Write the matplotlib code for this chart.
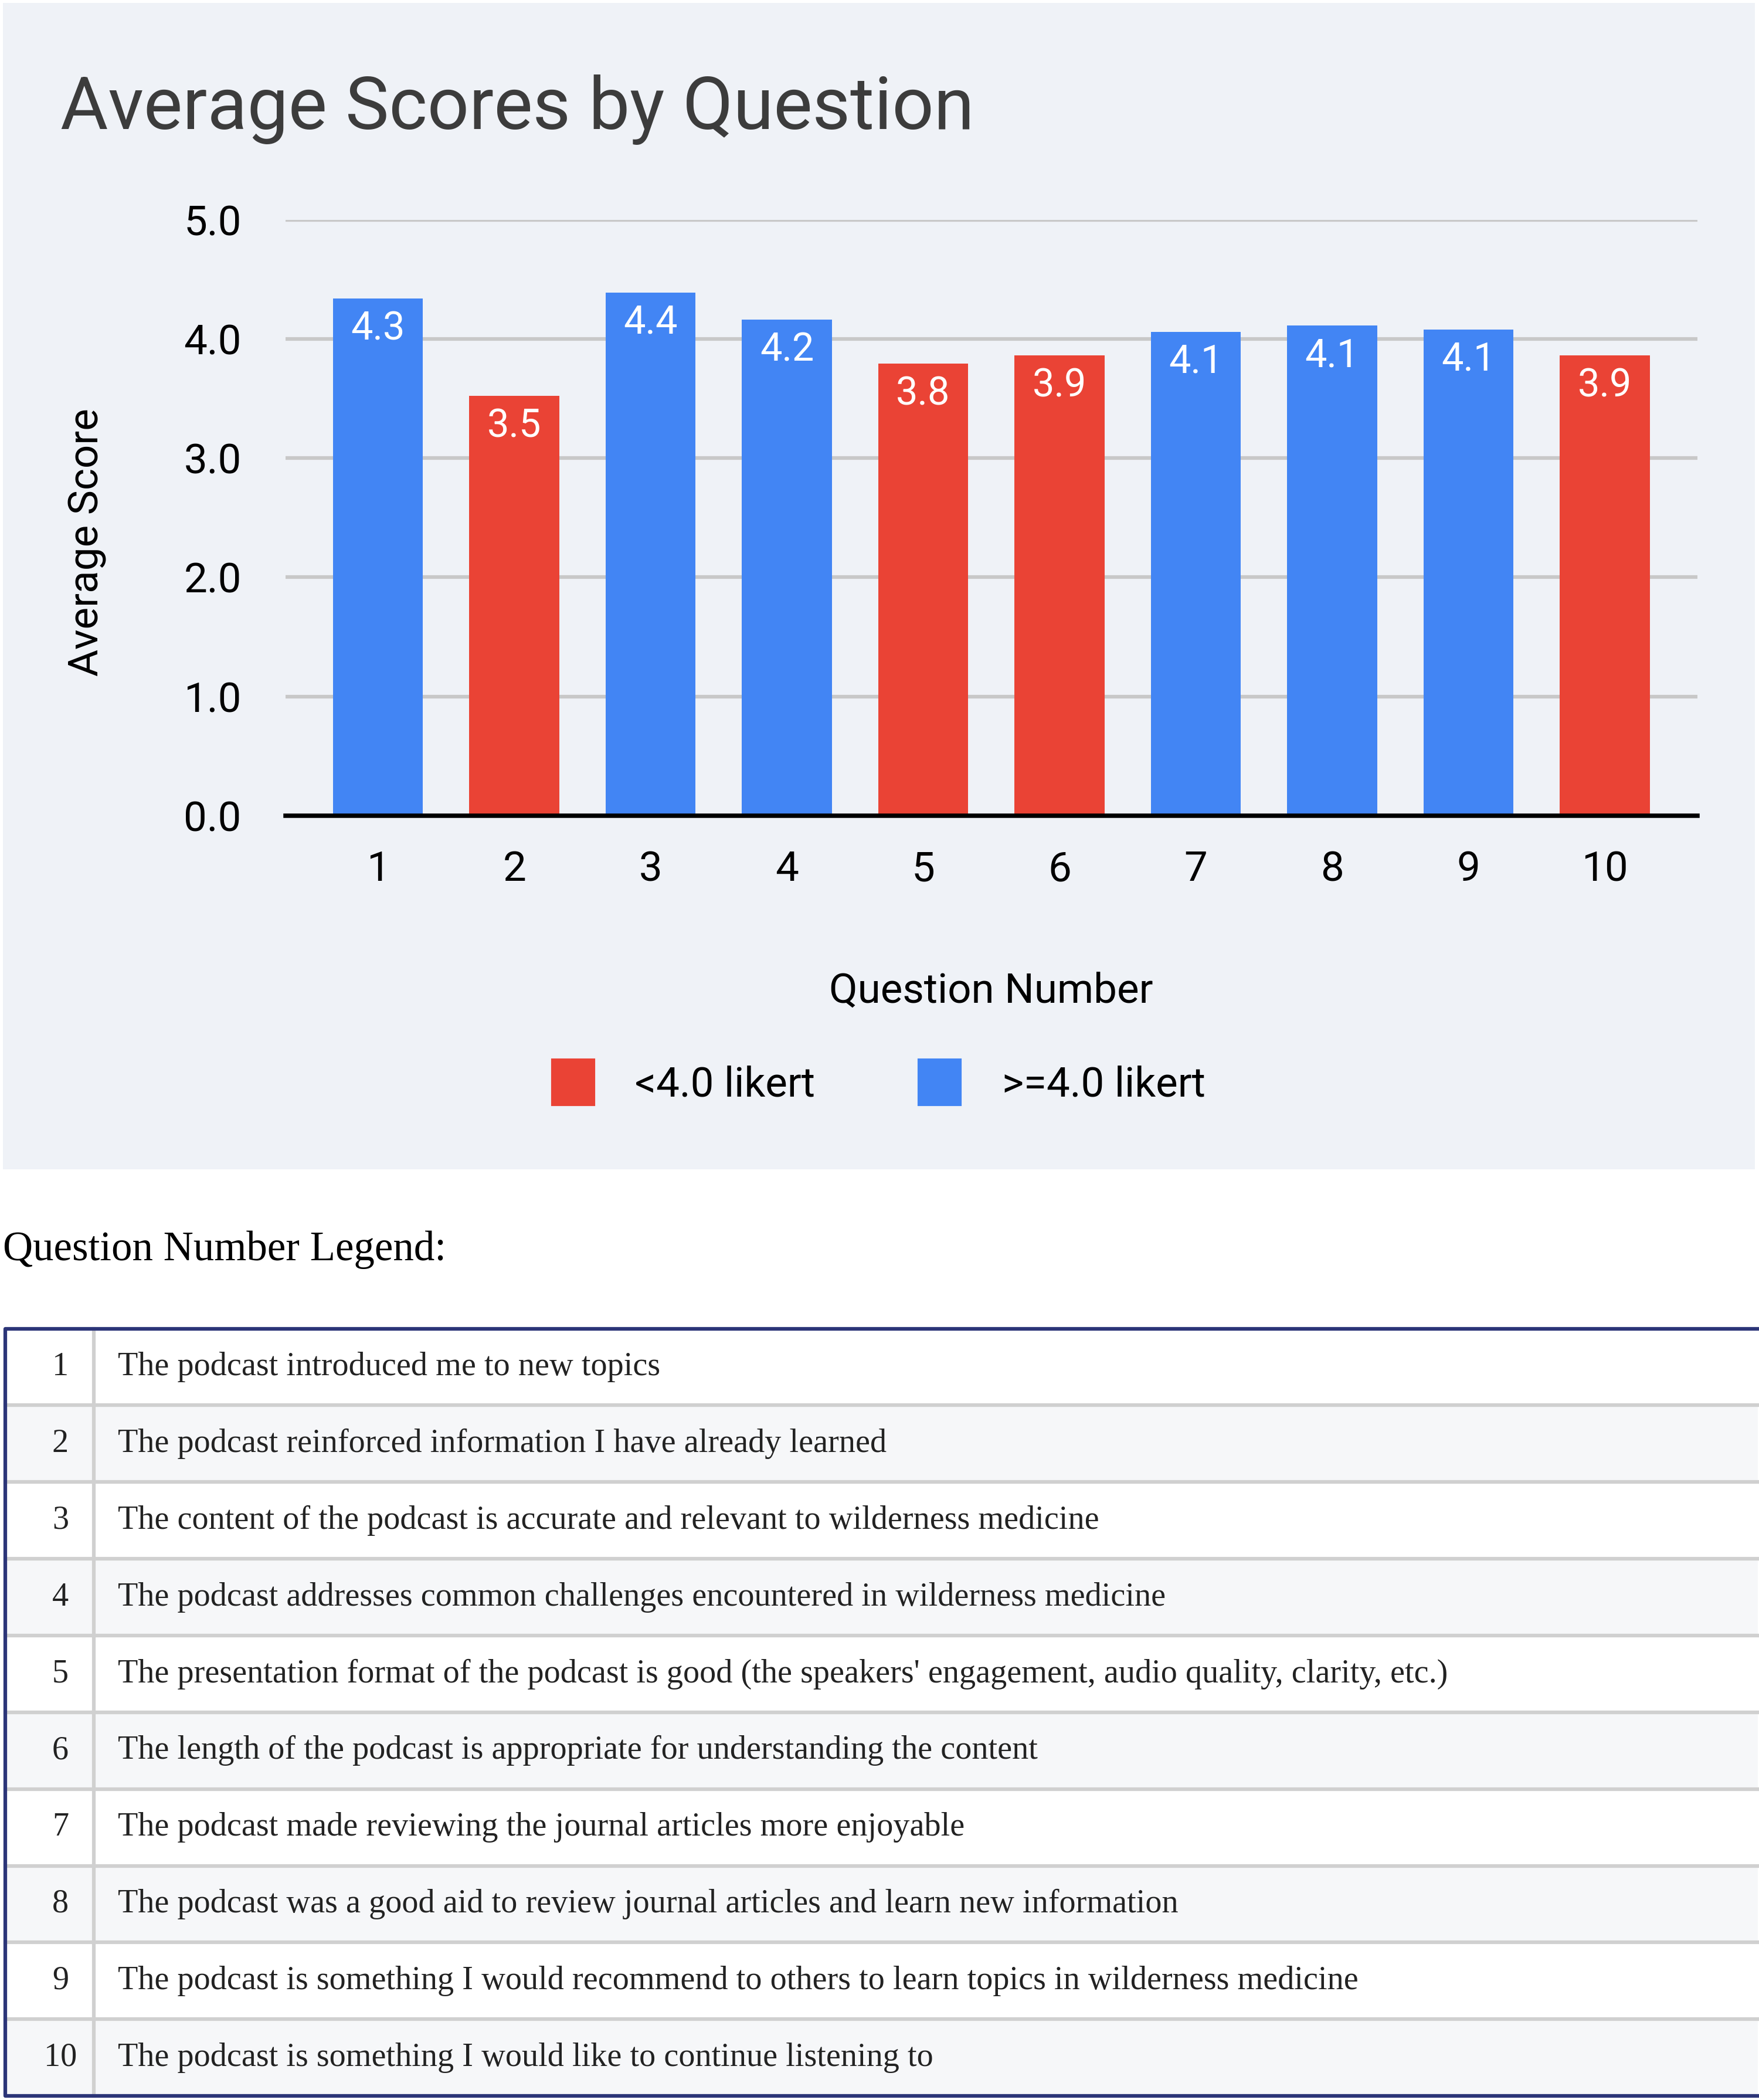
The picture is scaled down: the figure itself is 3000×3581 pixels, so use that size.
import matplotlib.pyplot as plt
from matplotlib.patches import Rectangle, Patch

questions = [1, 2, 3, 4, 5, 6, 7, 8, 9, 10]
scores = [4.34, 3.52, 4.39, 4.16, 3.79, 3.86, 4.06, 4.11, 4.08, 3.86]
statements = [
    "The podcast introduced me to new topics",
    "The podcast reinforced information I have already learned",
    "The content of the podcast is accurate and relevant to wilderness medicine",
    "The podcast addresses common challenges encountered in wilderness medicine",
    "The presentation format of the podcast is good (the speakers' engagement, audio quality, clarity, etc.)",
    "The length of the podcast is appropriate for understanding the content",
    "The podcast made reviewing the journal articles more enjoyable",
    "The podcast was a good aid to review journal articles and learn new information",
    "The podcast is something I would recommend to others to learn topics in wilderness medicine",
    "The podcast is something I would like to continue listening to",
]

RED = "#ea4335"
BLUE = "#4285f4"
W, H = 1313, 1568

fig = plt.figure(figsize=(10, 3581 / 300), dpi=300)

# canvas in reference pixel units for background and table
bg = fig.add_axes([0, 0, 1, 1])
bg.set_xlim(0, W)
bg.set_ylim(H, 0)
bg.axis("off")
bg.add_patch(Rectangle((2, 2), 1308, 871, color="#eff2f7", lw=0))

bg.text(45, 82, "Average Scores by Question", fontsize=30, color="#3c3c3c",
        family="Roboto", va="center", ha="left")
bg.text(65, 405, "Average Score", fontsize=17, rotation=90, family="Roboto",
        va="center", ha="center")
bg.text(740, 740, "Question Number", fontsize=17, family="Roboto",
        va="center", ha="center")

# table
top, rh = 992, 57.3
bg.text(2, 933, "Question Number Legend:", fontsize=17, family="Liberation Serif",
        va="center", ha="left")
for i, (q, s) in enumerate(zip(questions, statements)):
    y0 = top + i * rh
    if i % 2 == 1:
        bg.add_patch(Rectangle((4, y0), 1308, rh, color="#f6f7f9", lw=0))
    if i > 0:
        bg.plot([4, 1312], [y0, y0], color="#d0d0d0", lw=1.5)
    bg.text(45, y0 + rh / 2, str(q), fontsize=13.5, family="Liberation Serif",
            va="center", ha="center", color="#222222")
    bg.text(88, y0 + rh / 2, s, fontsize=13.5, family="Liberation Serif",
            va="center", ha="left", color="#222222")
bg.plot([70, 70], [top, top + 10 * rh], color="#d0d0d0", lw=1.5)
bg.plot([1312, 4, 4, 1312], [top, top, top + 10 * rh, top + 10 * rh],
        color="#2c3578", lw=1.5)

# bar chart
ax = fig.add_axes([213 / W, 1 - 609 / H, (1267 - 213) / W, (609 - 164) / H])
ax.set_facecolor("none")
colors = [RED if v < 4.0 else BLUE for v in scores]
ax.bar(questions, scores, width=0.66, color=colors, zorder=3)
for q, v in zip(questions, scores):
    ax.text(q, v - 0.1, f"{v:.1f}", color="white", fontsize=16, family="Roboto",
            ha="center", va="top", zorder=4)
ax.set_xlim(0.32, 10.68)
ax.set_ylim(0, 5)
ax.set_yticks([0, 1, 2, 3, 4, 5])
ax.set_yticklabels([f"{t:.1f}" for t in range(6)])
ax.set_xticks(questions)
ax.grid(axis="y", color="#c8c8c8", lw=1.5, zorder=0)
for sp in ["top", "right", "left"]:
    ax.spines[sp].set_visible(False)
ax.spines["bottom"].set_linewidth(1.8)
ax.spines["bottom"].set_zorder(5)
ax.tick_params(length=0, labelsize=17, pad=14)
for lab in ax.get_xticklabels() + ax.get_yticklabels():
    lab.set_family("Roboto")
ax.tick_params(axis="y", pad=18)

fig.legend(handles=[Patch(color=RED, label="<4.0 likert"),
                    Patch(color=BLUE, label=">=4.0 likert")],
           loc="center", bbox_to_anchor=(656 / W, 1 - 808 / H), ncol=2,
           frameon=False, prop={"family": "Roboto", "size": 17},
           handlelength=1.0, handleheight=1.3, columnspacing=2.5, handletextpad=1.0)

fig.savefig("out.png", dpi=300)
